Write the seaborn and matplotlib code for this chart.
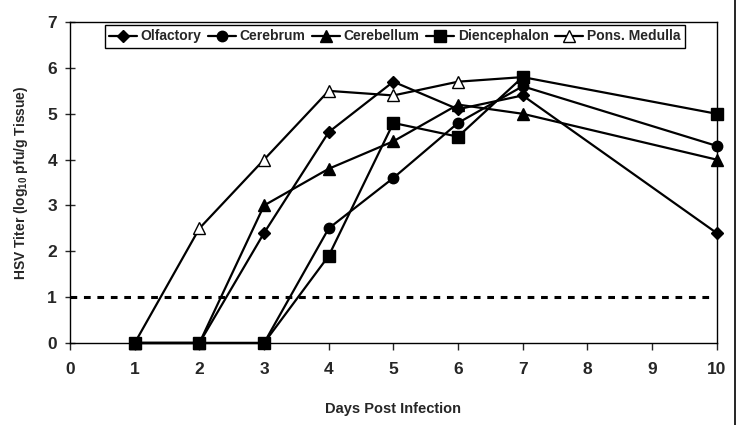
import pandas as pd
import seaborn as sns
import matplotlib.pyplot as plt
from matplotlib.lines import Line2D

# days post infection and titers (log10 pfu/g tissue)
days = [1, 2, 3, 4, 5, 6, 7, 10]
olfactory = [0, 0, 2.4, 4.6, 5.7, 5.1, 5.4, 2.4]
cerebrum = [0, 0, 0, 2.5, 3.6, 4.8, 5.6, 4.3]
cerebellum = [0, 0, 3.0, 3.8, 4.4, 5.2, 5.0, 4.0]
diencephalon = [0, 0, 0, 1.9, 4.8, 4.5, 5.8, 5.0]
pons_days = [1, 2, 3, 4, 5, 6, 7]
pons_medulla = [0, 2.5, 4.0, 5.5, 5.4, 5.7, 5.8]
detection_limit = 1.0

series = [
    ("Olfactory", days, olfactory, "D", "black", 6.5),
    ("Cerebrum", days, cerebrum, "o", "black", 7.5),
    ("Cerebellum", days, cerebellum, "^", "black", 8),
    ("Diencephalon", days, diencephalon, "s", "black", 8),
    ("Pons. Medulla", pons_days, pons_medulla, "^", "white", 8),
]

sns.set_style("ticks")
plt.rcParams['font.family'] = ['Liberation Sans', 'DejaVu Sans']
plt.rcParams['font.weight'] = 'bold'
plt.rcParams['mathtext.fontset'] = 'custom'
plt.rcParams['mathtext.rm'] = 'Liberation Sans:bold'
plt.rcParams['mathtext.bf'] = 'Liberation Sans:bold'

fig = plt.figure(figsize=(7.38, 4.25), dpi=100)
ax = fig.add_axes([0.095, 0.193, 0.876, 0.755])

for i, (name, x, y, marker, face, ms) in enumerate(series):
    df = pd.DataFrame({"day": x, "titer": y})
    z = 2 if name == "Pons. Medulla" else 3 + i
    sns.lineplot(data=df, x="day", y="titer", ax=ax, color="black", lw=1.6,
                 marker=marker, markersize=ms, markerfacecolor=face,
                 markeredgecolor="black", markeredgewidth=1.0,
                 label=name, clip_on=False, zorder=z)

ax.plot([0, 9.9], [detection_limit, detection_limit], color="black",
        lw=2.2, ls=(0, (2.2, 2.2)), zorder=1)

ax.set_xlim(0, 10)
ax.set_ylim(0, 7)
ax.set_xticks(range(0, 11))
ax.set_yticks(range(0, 8))
ax.tick_params(axis="x", direction="out", length=5, width=1, labelsize=12.5, pad=9)
ax.tick_params(axis="y", direction="inout", length=7, width=1, labelsize=12.5, pad=6)
for lab in ax.get_xticklabels() + ax.get_yticklabels():
    lab.set_fontweight("bold")
for sp in ax.spines.values():
    sp.set_color("black")
    sp.set_linewidth(1.0)

ax.set_xlabel("Days Post Infection", fontsize=10.5, fontweight="bold", labelpad=18)
ax.set_ylabel(r"HSV Titer (log$_{10}$ pfu/g Tissue)", fontsize=10, fontweight="bold", labelpad=12)

leg = ax.legend(loc="upper center", bbox_to_anchor=(0.502, 0.99), ncol=5,
                fancybox=False, framealpha=1, edgecolor="black",
                prop={"weight": "bold", "size": 10}, handlelength=2.0,
                handletextpad=0.3, columnspacing=0.45, borderpad=0.3,
                borderaxespad=0)
leg.get_frame().set_linewidth(1.0)

fig.add_artist(Line2D([0.996, 0.996], [0, 1], color="black", lw=1.2))

fig.savefig("out.png", dpi=100)
